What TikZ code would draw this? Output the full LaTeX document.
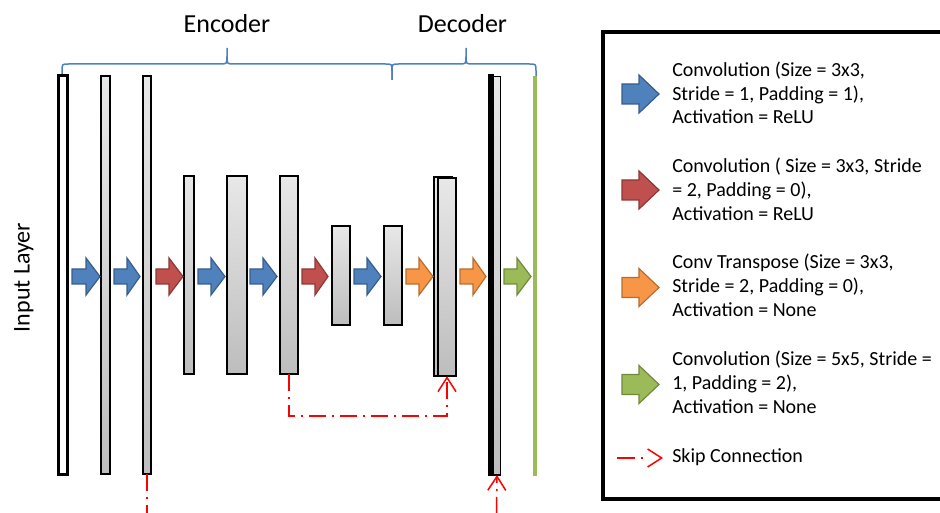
\documentclass[tikz,border=0pt]{standalone}
\usepackage{fontspec}
\setmainfont{Carlito}
\usetikzlibrary{arrows.meta}
\newdimen\pxu \pxu=0.75pt
\definecolor{cblue}{HTML}{4F81BD}
\definecolor{cblueD}{HTML}{385D8A}
\definecolor{cred}{HTML}{C0504D}
\definecolor{credD}{HTML}{8C3836}
\definecolor{corange}{HTML}{F79646}
\definecolor{corangeD}{HTML}{B66D31}
\definecolor{cgreen}{HTML}{9BBB59}
\definecolor{cgreenD}{HTML}{71893F}
\definecolor{bracec}{HTML}{4F81BD}
\definecolor{skipred}{HTML}{FF0000}
\definecolor{laytop}{HTML}{E8E8E8}
\definecolor{laybot}{HTML}{BDBDBD}
\newcommand{\blockarr}[7]{%
  \draw[#7] (#1,#4-#5) -- (#2,#4-#5) -- (#2,#4-#6) -- (#3,#4) -- (#2,#4+#6) -- (#2,#4+#5) -- (#1,#4+#5) -- cycle;}
\newcommand{\bracepath}[3]{%
  \draw[bracestyle] (#1,80) -- (#1,71) .. controls (#1,64) .. (#1+7,64) -- (#3-7,64) .. controls (#3,64) .. (#3,56) -- (#3,48)
     -- (#3,56) .. controls (#3,64) .. (#3+7,64) -- (#2-7,64) .. controls (#2,64) .. (#2,71) -- (#2,80);}
\tikzset{
  x=0.75pt, y=-0.75pt,
  layer/.style={draw=black, line width=1.8\pxu, top color=laytop, bottom color=laybot,
    inner sep=0pt, outer sep=0pt},
  inlayer/.style={draw=black, line width=3\pxu, fill=white, inner sep=0pt, outer sep=0pt},
  arrblue/.style={fill=cblue, draw=cblueD, line width=1.2\pxu},
  arrred/.style={fill=cred, draw=credD, line width=1.2\pxu},
  arrorange/.style={fill=corange, draw=corangeD, line width=1.2\pxu},
  arrgreen/.style={fill=cgreen, draw=cgreenD, line width=1.2\pxu},
  bracestyle/.style={draw=bracec, line width=1.5\pxu},
  skipline/.style={draw=skipred, line width=1.125pt,
    dash pattern=on 12.75pt off 4.5pt on 1.5pt off 4.5pt},
  skiphead/.style={-{Straight Barb[length=10.5pt, width=13.5pt]}},
  legtext/.style={anchor=base west, inner sep=0pt, font=\fontsize{15}{18}\selectfont},
  title/.style={anchor=base, inner sep=0pt, font=\fontsize{19.5}{23}\selectfont},
}
\begin{document}
\begin{tikzpicture}
\useasboundingbox (0,0) rectangle (940,513);

% titles and braces
\node[title] (enc) at (227,33) {Encoder};
\node[title] (dec) at (462.5,33) {Decoder};
\bracepath{62}{392}{227}
\bracepath{392}{536}{466}

% input label
\node[anchor=base, rotate=90, inner sep=0pt, font=\fontsize{18}{21}\selectfont] (inlabel) at (29.5,277.5) {Input Layer};

% layers
\node[inlayer, minimum width=9\pxu, minimum height=399\pxu] (l1) at (63,275) {};
\node[layer, minimum width=9.5\pxu, minimum height=398.5\pxu] (l2) at (105.5,275) {};
\node[layer, minimum width=8.5\pxu, minimum height=398.5\pxu] (l3) at (147,275) {};
\node[layer, minimum width=9.5\pxu, minimum height=198.5\pxu] (l4) at (189,275) {};
\node[layer, minimum width=20.5\pxu, minimum height=198.5\pxu] (l5) at (237,275) {};
\node[layer, minimum width=18.5\pxu, minimum height=198.5\pxu] (l6) at (289,275) {};
\node[layer, minimum width=18.5\pxu, minimum height=99.5\pxu] (l7) at (341,275.5) {};
\node[layer, minimum width=18.5\pxu, minimum height=99.5\pxu] (l8) at (393,275.5) {};
\node[layer, minimum width=18.5\pxu, minimum height=199.5\pxu] (l9b) at (443,276.5) {};
\node[layer, minimum width=18.5\pxu, minimum height=198.5\pxu] (l9) at (447,277) {};
\node[fill=black, inner sep=0pt, outer sep=0pt, minimum width=6\pxu, minimum height=402\pxu] (l10b) at (490.5,275) {};
\node[layer, minimum width=7\pxu, minimum height=398.5\pxu] (l10) at (497,275.75) {};
\node[fill=cgreen, inner sep=0pt, outer sep=0pt, minimum width=4\pxu, minimum height=400\pxu] (l11) at (535,276) {};

% block arrows between layers
\blockarr{72}{86}{100}{276.5}{7.5}{18.5}{arrblue}
\blockarr{114}{127}{140}{276.5}{7.5}{18.5}{arrblue}
\blockarr{156}{169}{183}{276.5}{7.5}{18.5}{arrred}
\blockarr{198}{211}{225}{276.5}{7.5}{18.5}{arrblue}
\blockarr{250}{263}{277}{276.5}{7.5}{18.5}{arrblue}
\blockarr{302}{315}{328}{276.5}{7.5}{18.5}{arrred}
\blockarr{354}{367}{381}{276.5}{7.5}{18.5}{arrblue}
\blockarr{406}{419}{433}{276.5}{7.5}{18.5}{arrorange}
\blockarr{460}{473}{486}{276.5}{7.5}{18.5}{arrorange}
\blockarr{504}{517}{531}{276.5}{7.5}{18.5}{arrgreen}

% skip connections
\coordinate (sk1) at (447,416);
\draw[skipline, skiphead] (l6.south) |- (sk1) -- (l9.south);
\coordinate (sk2a) at (147,514);
\draw[skipline] (l3.south) -- (sk2a);
\coordinate (sk2b) at (496.5,514);
\draw[skipline, skiphead] (sk2b) -- (l10.south);

% legend box
\node[draw=black, line width=4\pxu, inner sep=0pt, minimum width=347\pxu, minimum height=467\pxu] (legend) at (776.5,265.5) {};

\blockarr{622}{639}{659}{94}{10}{19}{arrblue}
\node[legtext] (t1a) at (672,77) {Convolution (Size = 3x3,};
\node[legtext] (t1b) at (672,100.5) {Stride = 1, Padding = 1),};
\node[legtext] (t1c) at (672,124) {Activation = ReLU};

\blockarr{622}{639}{659}{190}{10}{19}{arrred}
\node[legtext] (t2a) at (672,173) {Convolution ( Size = 3x3, Stride};
\node[legtext] (t2b) at (672,197) {= 2, Padding = 0),};
\node[legtext] (t2c) at (672,221) {Activation = ReLU};

\blockarr{622}{639}{659}{287.5}{10}{19}{arrorange}
\node[legtext] (t3a) at (672,269) {Conv Transpose (Size = 3x3,};
\node[legtext] (t3b) at (672,293) {Stride = 2, Padding = 0),};
\node[legtext] (t3c) at (672,317) {Activation = None};

\blockarr{622}{639}{659}{384.5}{10}{19}{arrgreen}
\node[legtext] (t4a) at (672,366) {Convolution (Size = 5x5, Stride =};
\node[legtext] (t4b) at (672,390) {1, Padding = 2),};
\node[legtext] (t4c) at (672,414) {Activation = None};

\coordinate (lsA) at (617,458);
\coordinate (lsB) at (663,458);
\draw[skipline, skiphead, dash pattern=on 13.5pt off 4.5pt on 1.5pt off 30pt] (lsA) -- (lsB);
\node[legtext] (t5) at (672,463) {Skip Connection};
\end{tikzpicture}
\end{document}
